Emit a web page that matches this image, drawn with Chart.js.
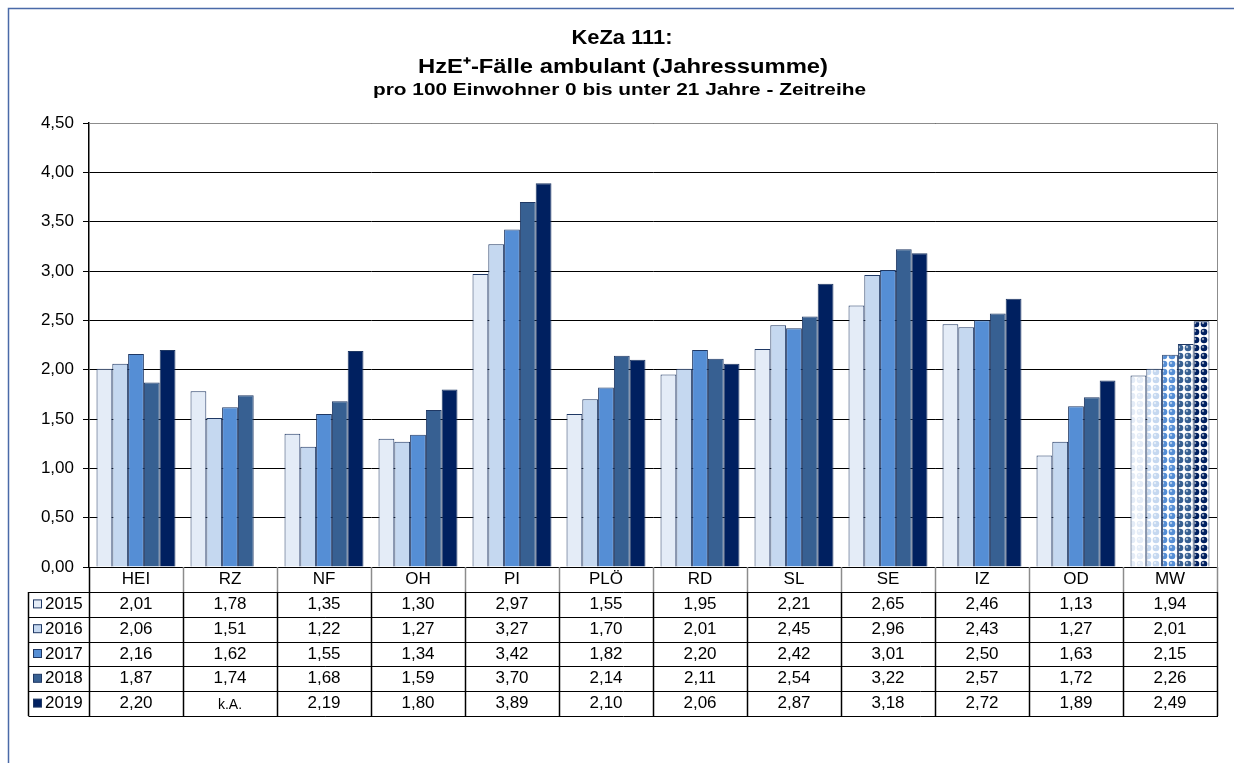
<!DOCTYPE html>
<html><head><meta charset="utf-8">
<script src="https://cdn.jsdelivr.net/npm/chart.js@4"></script>
<style>html,body{margin:0;padding:0;background:#fff}#wrap{width:1234px;height:763px;position:relative}</style>
</head><body><div id="wrap"><canvas id="c" width="1234" height="763"></canvas></div>
<script>
const categories = ['HEI','RZ','NF','OH','PI','PLÖ','RD','SL','SE','IZ','OD','MW'];
const years = ['2015','2016','2017','2018','2019'];
const v2015 = [2.01,1.78,1.35,1.30,2.97,1.55,1.95,2.21,2.65,2.46,1.13,1.94];
const v2016 = [2.06,1.51,1.22,1.27,3.27,1.70,2.01,2.45,2.96,2.43,1.27,2.01];
const v2017 = [2.16,1.62,1.55,1.34,3.42,1.82,2.20,2.42,3.01,2.50,1.63,2.15];
const v2018 = [1.87,1.74,1.68,1.59,3.70,2.14,2.11,2.54,3.22,2.57,1.72,2.26];
const v2019 = [2.20,null,2.19,1.80,3.89,2.10,2.06,2.87,3.18,2.72,1.89,2.49];
const yTicks = [0,0.5,1,1.5,2,2.5,3,3.5,4,4.5];
const missingLabel = 'k.A.';
const titleLines = ['KeZa 111:','HzE⁺-Fälle ambulant (Jahressumme)','pro 100 Einwohner 0 bis unter 21 Jahre - Zeitreihe'];

const series = [v2015,v2016,v2017,v2018,v2019];
const colors = ['#E4ECF7','#C5D8F0','#558ED5','#376092','#002060'];
const FONT = "'Liberation Sans', Arial, sans-serif";

function makePattern(col){
  const t = document.createElement('canvas'); t.width = 8; t.height = 8;
  const g = t.getContext('2d');
  g.fillStyle = '#ffffff'; g.fillRect(0,0,8,8);
  g.fillStyle = col;
  g.beginPath(); g.arc(4,4,3.3,0,Math.PI*2); g.fill();
  g.fillStyle = 'rgba(255,255,255,0.55)';
  g.beginPath(); g.arc(3,3,1.2,0,Math.PI*2); g.fill();
  return document.getElementById('c').getContext('2d').createPattern(t,'repeat');
}

const datasets = series.map((s,i)=>{
  const bg = categories.map((c,j)=> j===categories.length-1 ? makePattern(colors[i]) : colors[i]);
  return {label: years[i], data: s, backgroundColor: bg, borderColor: '#1F3864', borderWidth: 1,
          categoryPercentage: 0.84, barPercentage: 1.0};
});

const fmt = v => v.toFixed(2).replace('.', ',');

function fitText(ctx, text, cx, baseY, width){
  const m = ctx.measureText(text).width;
  ctx.save(); ctx.translate(cx, baseY); ctx.scale(width/m, 1);
  ctx.textAlign = 'center'; ctx.textBaseline = 'alphabetic';
  ctx.fillText(text, 0, 0); ctx.restore();
}

const framePlugin = {
  id: 'frame',
  beforeDraw(chart){
    const ctx = chart.ctx;
    ctx.save();
    ctx.fillStyle = '#fff'; ctx.fillRect(0,0,chart.width,chart.height);
    ctx.strokeStyle = '#4A6AA8'; ctx.lineWidth = 1.5;
    ctx.beginPath(); ctx.moveTo(8.5, chart.height+2); ctx.lineTo(8.5, 8.5); ctx.lineTo(chart.width+2, 8.5); ctx.stroke();
    ctx.restore();
  },
  afterDraw(chart){
    const ctx = chart.ctx, a = chart.chartArea;
    ctx.save();
    ctx.fillStyle = '#000';
    ctx.font = 'bold 21px ' + FONT; fitText(ctx, titleLines[0], 622, 44, 101);
    fitText(ctx, titleLines[1], 623, 73, 410);
    ctx.font = 'bold 17px ' + FONT; fitText(ctx, titleLines[2], 619.5, 95, 493);
    ctx.strokeStyle = '#8C8C8C'; ctx.lineWidth = 1;
    ctx.beginPath(); ctx.moveTo(a.left, Math.round(a.top)+0.5); ctx.lineTo(Math.round(a.right)+0.5, Math.round(a.top)+0.5);
    ctx.lineTo(Math.round(a.right)+0.5, a.bottom); ctx.stroke();
    const n = categories.length;
    const w = (a.right - a.left)/n;
    const top = Math.round(a.bottom);
    const rowH = 24.8;
    const headerB = top + 25;
    const legL = 28.5;
    const rowsY = [headerB]; for (let r=1;r<=years.length;r++) rowsY.push(headerB + r*rowH);
    const bottom = rowsY[rowsY.length-1];
    ctx.strokeStyle = '#8C8C8C'; ctx.lineWidth = 1.5;
    for (let i=1;i<=n;i++){ const x = Math.round(a.left + i*w)+0.5; ctx.beginPath(); ctx.moveTo(x, top); ctx.lineTo(x, headerB); ctx.stroke(); }
    ctx.strokeStyle = '#000'; ctx.lineWidth = 1.5;
    for (let i=0;i<=n;i++){ const x = Math.round(a.left + i*w)+0.5; ctx.beginPath(); ctx.moveTo(x, i===0?top:headerB); ctx.lineTo(x, bottom); ctx.stroke(); }
    ctx.beginPath(); ctx.moveTo(legL, headerB); ctx.lineTo(legL, bottom); ctx.stroke();
    ctx.lineWidth = 1;
    rowsY.forEach(y=>{ const yy = Math.round(y)+0.5; ctx.beginPath(); ctx.moveTo(legL, yy); ctx.lineTo(Math.round(a.right)+1, yy); ctx.stroke(); });
    ctx.font = '17px ' + FONT; ctx.fillStyle = '#000'; ctx.textAlign = 'center'; ctx.textBaseline = 'middle';
    categories.forEach((c,i)=> ctx.fillText(c, a.left + (i+0.5)*w, top + 12));
    series.forEach((s,r)=>{
      const cy = rowsY[r] + rowH/2;
      ctx.fillStyle = colors[r]; ctx.fillRect(33.5, cy-4.5, 8, 8);
      ctx.strokeStyle = '#1F3864'; ctx.lineWidth = 1; ctx.strokeRect(33.5, cy-4.5, 8, 8);
      ctx.fillStyle = '#000'; ctx.textAlign = 'left'; ctx.font = '17px ' + FONT;
      ctx.fillText(years[r], 45, cy);
      ctx.textAlign = 'center';
      s.forEach((v,i)=>{
        if (v === null){ ctx.font = '14px ' + FONT; ctx.fillText(missingLabel, a.left + (i+0.5)*w, cy+2); ctx.font = '17px ' + FONT; }
        else ctx.fillText(fmt(v), a.left + (i+0.5)*w, cy);
      });
    });
    ctx.restore();
  }
};

new Chart(document.getElementById('c'), {
  type: 'bar',
  data: {labels: categories, datasets},
  options: {
    responsive: false, animation: false,
    layout: {padding: {left: 29, top: 123, right: 17, bottom: 196}},
    plugins: {legend: {display: false}, title: {display: false}, tooltip: {enabled: false}},
    scales: {
      x: {display: false},
      y: {
        min: 0, max: 4.5,
        afterFit(s){ s.width = 60; },
        afterBuildTicks(s){ s.ticks = yTicks.map(v=>({value: v})); },
        ticks: {callback: v => fmt(v), color: '#000', font: {family: FONT, size: 17}, padding: 9},
        grid: {color: '#000', lineWidth: 1, tickLength: 6, drawTicks: true},
        border: {display: true, color: '#000', width: 1.5}
      }
    }
  },
  plugins: [framePlugin]
});
</script></body></html>
